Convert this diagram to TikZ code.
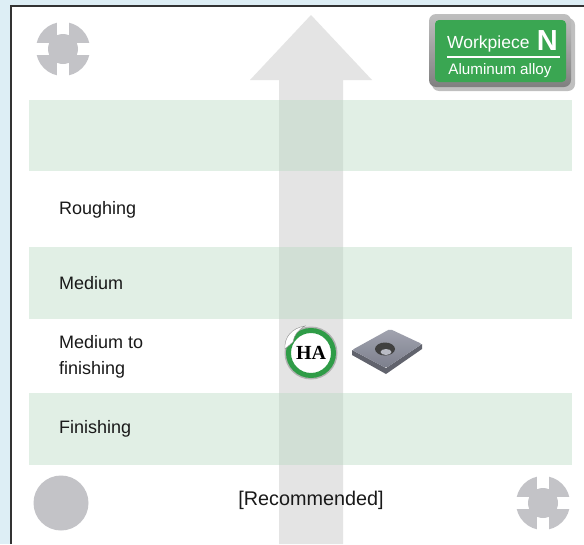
\documentclass[tikz,border=0pt]{standalone}
\usepackage{fontspec}
\setmainfont{Liberation Sans}
\newfontfamily\haserif{Liberation Serif}
\usetikzlibrary{shadows}
\usetikzlibrary{calc}

\definecolor{paneblue}{HTML}{DDEEF5}
\definecolor{bandgreen}{HTML}{B6D9C0}
\definecolor{arrowgray}{HTML}{E4E4E4}
\definecolor{chuckgray}{HTML}{C3C3C7}
\definecolor{badgegreen}{HTML}{3AA652}
\definecolor{ringgreen}{HTML}{2F9C47}
\definecolor{insertgray}{HTML}{8A8D9C}

\tikzstyle{framerule}=[draw=black!80,line width=1.4pt]
\tikzstyle{band}=[fill=bandgreen,fill opacity=0.4,draw=none]
\tikzstyle{uparrow}=[fill=arrowgray,draw=none]
\tikzstyle{rowlabel}=[anchor=west,align=left,inner sep=0pt,text=black!90,font=\fontsize{18}{26}\selectfont]
\tikzstyle{chuck}=[fill=chuckgray]
\tikzstyle{badgetext}=[text=white,inner sep=0pt]
\tikzstyle{hacoin}=[circle,fill=white,draw=ringgreen,line width=5pt,minimum size=45pt,inner sep=0pt,font=\haserif\bfseries\fontsize{20}{20}\selectfont]

\begin{document}
\begin{tikzpicture}[x=1pt,y=-1pt]

    \useasboundingbox (0,0) rectangle (584,544);

    % frame and panel
    \fill[paneblue] (0,0) rectangle (584,544);
    \fill[white] (11,6) rectangle (584,544);
    \draw[framerule] (11,544) -- (11,6) -- (584,6);

    % the big arrow
    \path[uparrow] (279,544) -- (279,80) -- (250,80) -- (311,15) -- (372,80) -- (343,80) -- (343,544) -- cycle;

    % green rows
    \foreach \top/\bot in {100/171, 247/319, 393/465}
        \path[band] (29,\top) rectangle (572,\bot);

    % row labels
    \foreach \pos/\name/\txt in {{(59,210)/rough/Roughing}, {(59,283)/medium/Medium},
                                 {(59,357)/medfin/{Medium to\\finishing}}, {(59,429)/finish/Finishing}}
        \node[rowlabel] (\name) at \pos {\txt};
    \node[rowlabel,anchor=center,font=\fontsize{19.8}{24}\selectfont] (rec) at (311,500) {[Recommended]};

    % chuck symbols
    \foreach \cx/\cy in {63/49, 543/503} {
        \begin{scope}[shift={(\cx,\cy)}]
            \fill[chuck] (0,0) circle (27);
            \fill[white] (-6,-28) rectangle (6,28);
            \fill[white] (-28,-6) rectangle (28,6);
            \fill[chuck] (0,0) circle (15);
        \end{scope}
    }
    \fill[chuck] (61,503) circle (27.5);

    % workpiece badge
    \fill[black,opacity=0.25,rounded corners=7] (432,18) rectangle (575,91);
    \shade[top color=black!25,bottom color=black!50,rounded corners=7] (429,14) rectangle (571,87);
    \fill[badgegreen,rounded corners=4] (435,20) rectangle (566,82);
    \node[badgetext,anchor=base west,font=\fontsize{17.5}{18}\selectfont] (wp) at (447,48) {Workpiece};
    \node[badgetext,anchor=base east,font=\bfseries\fontsize{29}{29}\selectfont] (grp) at (558,50) {N};
    \draw[white,line width=1.2pt] (447,57) -- (560,57);
    \node[badgetext,font=\fontsize{15.2}{16}\selectfont] (mat) at (500,71) {Aluminum alloy};

    % grade coin
    \fill[black!30] (311,353) circle (26.5);
    \node[hacoin] (ha) at (311,353) {HA};
    \filldraw[fill=white,draw=black!45,line width=0.4pt] (285,349) .. controls (284,337) and (292,328) .. (305,326) .. controls (298,330) and (294,335) .. (293,342) -- cycle;

    % insert
    \fill[insertgray!70!black] (352,350) -- (386,368) -- (422,344) -- (422,349) -- (386,374) -- (352,355) -- cycle;
    \shade[top color=insertgray!80,bottom color=insertgray!90!black,rounded corners=2] (352,350) -- (390,329) -- (422,344) -- (386,368) -- cycle;
    \fill[black!75] (385,349) ellipse (10 and 6.5);
    \fill[insertgray!60] (386,352) ellipse (5.5 and 3);

\end{tikzpicture}
\end{document}
